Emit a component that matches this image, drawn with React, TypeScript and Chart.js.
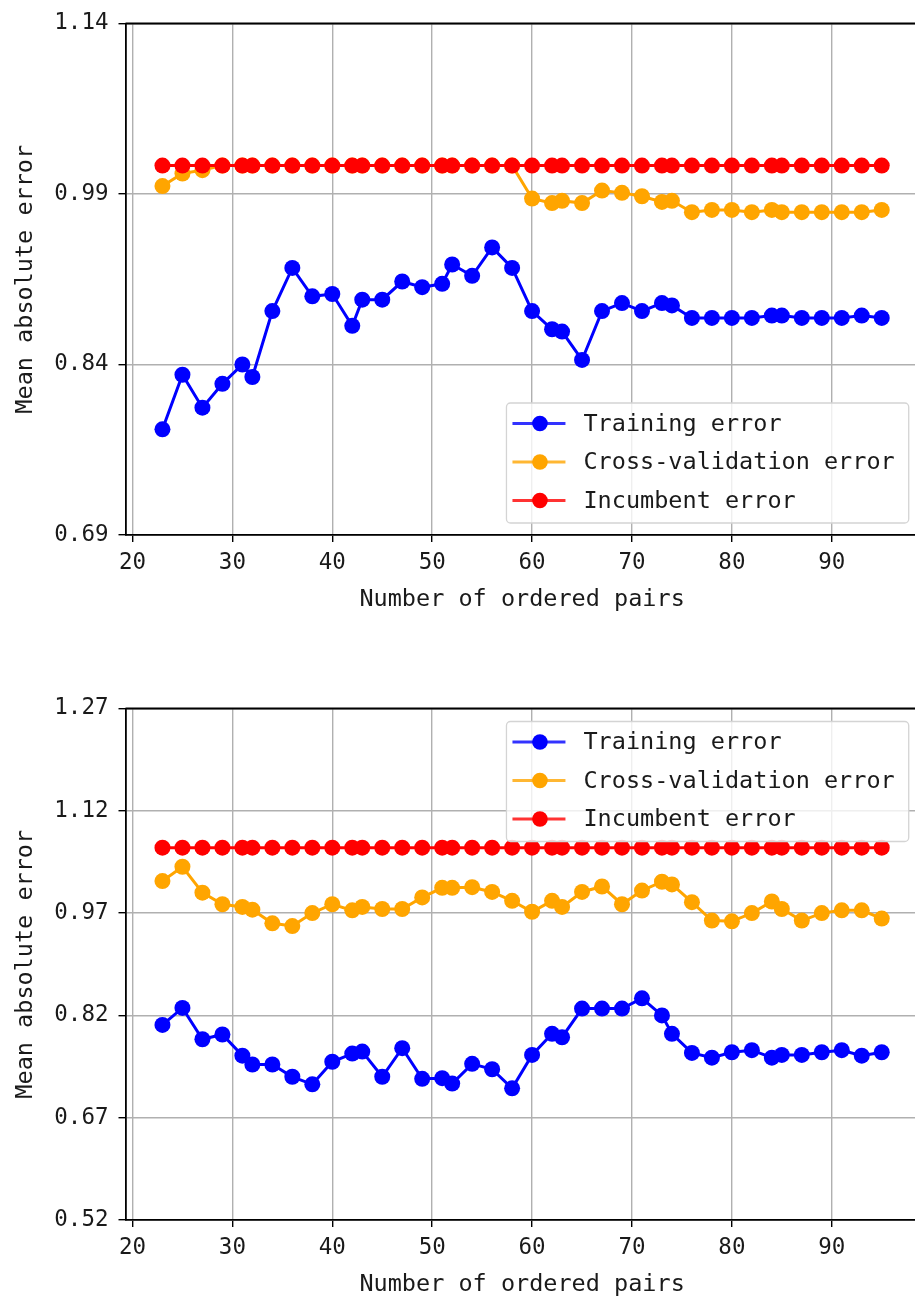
import { useEffect, useRef } from "react";
import { Chart, registerables } from "chart.js";

Chart.register(...registerables);

// Number of ordered pairs used at each evaluation step
const pairCounts = [
  23, 25, 27, 29, 31, 32, 34, 36, 38, 40, 42, 43, 45, 47, 49, 51, 52, 54, 56, 58,
  60, 62, 63, 65, 67, 69, 71, 73, 74, 76, 78, 80, 82, 84, 85, 87, 89, 91, 93, 95,
];

// Upper panel
const trainingErrorA = [
  0.783, 0.831, 0.802, 0.823, 0.84, 0.829, 0.887, 0.925, 0.9, 0.902, 0.874, 0.897, 0.897, 0.913, 0.908, 0.911, 0.928, 0.918, 0.943, 0.925,
  0.887, 0.871, 0.869, 0.844, 0.887, 0.894, 0.887, 0.894, 0.892, 0.881, 0.881, 0.881, 0.881, 0.883, 0.883, 0.881, 0.881, 0.881, 0.883, 0.881,
];
const crossValErrorA = [
  0.997, 1.008, 1.011, 1.015, 1.015, 1.015, 1.015, 1.015, 1.015, 1.015, 1.015, 1.015, 1.015, 1.015, 1.015, 1.015, 1.015, 1.015, 1.015, 1.015,
  0.986, 0.982, 0.984, 0.982, 0.993, 0.991, 0.988, 0.983, 0.984, 0.974, 0.976, 0.976, 0.974, 0.976, 0.974, 0.974, 0.974, 0.974, 0.974, 0.976,
];
const incumbentErrorA = [
  1.015, 1.015, 1.015, 1.015, 1.015, 1.015, 1.015, 1.015, 1.015, 1.015, 1.015, 1.015, 1.015, 1.015, 1.015, 1.015, 1.015, 1.015, 1.015, 1.015,
  1.015, 1.015, 1.015, 1.015, 1.015, 1.015, 1.015, 1.015, 1.015, 1.015, 1.015, 1.015, 1.015, 1.015, 1.015, 1.015, 1.015, 1.015, 1.015, 1.015,
];
const yTicksA = [0.69, 0.84, 0.99, 1.14];

// Lower panel
const trainingErrorB = [
  0.806, 0.831, 0.785, 0.792, 0.761, 0.748, 0.748, 0.73, 0.719, 0.752, 0.764, 0.767, 0.73, 0.772, 0.727, 0.728, 0.72, 0.749, 0.741, 0.713,
  0.762, 0.793, 0.788, 0.83, 0.83, 0.83, 0.845, 0.82, 0.793, 0.765, 0.758, 0.766, 0.769, 0.758, 0.762, 0.762, 0.766, 0.769, 0.761, 0.766,
];
const crossValErrorB = [
  1.017, 1.038, 1.0, 0.983, 0.979, 0.975, 0.955, 0.951, 0.97, 0.983, 0.974, 0.979, 0.976, 0.976, 0.993, 1.007, 1.007, 1.008, 1.001, 0.988,
  0.972, 0.988, 0.979, 1.001, 1.009, 0.983, 1.003, 1.016, 1.012, 0.986, 0.959, 0.958, 0.97, 0.987, 0.976, 0.959, 0.97, 0.974, 0.974, 0.962,
];
const incumbentErrorB = [
  1.066, 1.066, 1.066, 1.066, 1.066, 1.066, 1.066, 1.066, 1.066, 1.066, 1.066, 1.066, 1.066, 1.066, 1.066, 1.066, 1.066, 1.066, 1.066, 1.066,
  1.066, 1.066, 1.066, 1.066, 1.066, 1.066, 1.066, 1.066, 1.066, 1.066, 1.066, 1.066, 1.066, 1.066, 1.066, 1.066, 1.066, 1.066, 1.066, 1.066,
];
const yTicksB = [0.52, 0.67, 0.82, 0.97, 1.12, 1.27];

const xTicks = [20, 30, 40, 50, 60, 70, 80, 90];
const seriesLabels = ["Training error", "Cross-validation error", "Incumbent error"];
const seriesColors = ["#0000ff", "#ffa500", "#ff0000"];

const FONT = '"DejaVu Sans Mono", "Liberation Mono", monospace';
const TEXT_COLOR = "#1a1a1a";
const CANVAS_W = 1000;
const CANVAS_H = 640;

type LegendPlacement = "lower right" | "upper right";

// Top frame line (the right one falls outside the visible page)
const topSpine = {
  id: "topSpine",
  afterDraw(chart: Chart) {
    const { ctx, chartArea } = chart;
    ctx.save();
    ctx.strokeStyle = "#000";
    ctx.lineWidth = 1.8;
    ctx.beginPath();
    ctx.moveTo(chartArea.left, chartArea.top);
    ctx.lineTo(chartArea.right, chartArea.top);
    ctx.stroke();
    ctx.restore();
  },
};

function legendPlugin(placement: LegendPlacement) {
  return {
    id: "innerLegend",
    afterDraw(chart: Chart) {
      const { ctx, chartArea } = chart;
      const xScale = chart.scales.x;
      ctx.save();
      ctx.font = `23.5px ${FONT}`;
      const textW = Math.max(...seriesLabels.map((s) => ctx.measureText(s).width));
      const boxW = 77 + textW + 14;
      const boxH = 120;
      // anchored near the right end of the axis range
      const right = xScale.getPixelForValue(97.7);
      const left = right - boxW;
      const top = placement === "upper right" ? chartArea.top + 13 : chartArea.bottom - 12 - boxH;

      ctx.fillStyle = "rgba(255,255,255,0.8)";
      ctx.strokeStyle = "#d4d4d4";
      ctx.lineWidth = 1.3;
      ctx.beginPath();
      ctx.roundRect(left, top, boxW, boxH, 4);
      ctx.fill();
      ctx.stroke();

      const rowOffsets = [20.5, 59, 97.5];
      seriesLabels.forEach((label, i) => {
        const y = top + rowOffsets[i];
        ctx.strokeStyle = seriesColors[i];
        ctx.globalAlpha = 0.8;
        ctx.lineWidth = 3;
        ctx.beginPath();
        ctx.moveTo(left + 6, y);
        ctx.lineTo(left + 59, y);
        ctx.stroke();
        ctx.globalAlpha = 1;
        ctx.fillStyle = seriesColors[i];
        ctx.beginPath();
        ctx.arc(left + 33.5, y, 7.8, 0, Math.PI * 2);
        ctx.fill();
        ctx.fillStyle = TEXT_COLOR;
        ctx.textBaseline = "middle";
        ctx.textAlign = "left";
        ctx.fillText(label, left + 77, y + 1);
      });
      ctx.restore();
    },
  };
}

function ErrorChart(props: {
  training: number[];
  crossVal: number[];
  incumbent: number[];
  yTicks: number[];
  topPad: number;
  legend: LegendPlacement;
}) {
  const ref = useRef<HTMLCanvasElement | null>(null);

  useEffect(() => {
    if (!ref.current) return;
    const series = [props.training, props.crossVal, props.incumbent];
    const yMin = props.yTicks[0];
    const yMax = props.yTicks[props.yTicks.length - 1];
    const tickFont = { family: FONT, size: 22.5 };
    const titleFont = { family: FONT, size: 23.5 };
    const axisWidth = 125.5;
    const xMin = 19.3;
    const xMax = 98.7;
    const pxPerUnit = 9.99;
    const plotRight = axisWidth + (xMax - xMin) * pxPerUnit;

    const chart = new Chart(ref.current, {
      type: "line",
      data: {
        datasets: series.map((values, i) => ({
          label: seriesLabels[i],
          data: pairCounts.map((x, j) => ({ x, y: values[j] })),
          borderColor: seriesColors[i],
          backgroundColor: seriesColors[i],
          pointBackgroundColor: seriesColors[i],
          pointBorderWidth: 0,
          pointRadius: 8,
          pointHoverRadius: 8,
          borderWidth: 3,
          tension: 0,
          fill: false,
          order: 3 - i,
        })),
      },
      options: {
        animation: false,
        responsive: false,
        events: [],
        layout: { padding: { top: props.topPad, right: CANVAS_W - plotRight, left: 0, bottom: 0 } },
        scales: {
          x: {
            type: "linear",
            min: xMin,
            max: xMax,
            afterBuildTicks: (s: any) => {
              s.ticks = xTicks.map((v) => ({ value: v }));
            },
            afterFit: (s: any) => {
              s.height = 105;
            },
            grid: { color: "#b0b0b0", lineWidth: 1.4, tickColor: "#000", tickLength: 7, tickWidth: 1.4 },
            border: { color: "#000", width: 1.8 },
            ticks: {
              font: tickFont,
              color: TEXT_COLOR,
              padding: 8,
              maxRotation: 0,
              autoSkip: false,
              callback: (v: any) => String(v),
            },
            title: {
              display: true,
              text: "Number of ordered pairs",
              font: titleFont,
              color: TEXT_COLOR,
              padding: { top: 0, bottom: 26 },
            },
          },
          y: {
            type: "linear",
            min: yMin,
            max: yMax,
            afterBuildTicks: (s: any) => {
              s.ticks = props.yTicks.map((v) => ({ value: v }));
            },
            afterFit: (s: any) => {
              s.width = axisWidth;
            },
            grid: { color: "#b0b0b0", lineWidth: 1.4, tickColor: "#000", tickLength: 7, tickWidth: 1.4 },
            border: { color: "#000", width: 1.8 },
            ticks: {
              font: tickFont,
              color: TEXT_COLOR,
              padding: 10,
              autoSkip: false,
              callback: (v: any) => Number(v).toFixed(2),
            },
            title: {
              display: true,
              text: "Mean absolute error",
              font: titleFont,
              color: TEXT_COLOR,
              padding: { top: 12, bottom: 0 },
            },
          },
        },
        plugins: {
          legend: { display: false },
          tooltip: { enabled: false },
        },
      },
      plugins: [topSpine, legendPlugin(props.legend)],
    } as any);

    return () => chart.destroy();
  }, []);

  return (
    <canvas
      ref={ref}
      width={CANVAS_W}
      height={CANVAS_H}
      style={{ display: "block", width: CANVAS_W, height: CANVAS_H }}
    />
  );
}

export default function App() {
  return (
    <div
      style={{
        position: "absolute",
        left: 0,
        top: 0,
        width: 915,
        height: 1298,
        overflow: "hidden",
        background: "#fff",
      }}
    >
      <div style={{ position: "absolute", left: 0, top: 0 }}>
        <ErrorChart
          training={trainingErrorA}
          crossVal={crossValErrorA}
          incumbent={incumbentErrorA}
          yTicks={yTicksA}
          topPad={21}
          legend="lower right"
        />
      </div>
      <div style={{ position: "absolute", left: 0, top: 685 }}>
        <ErrorChart
          training={trainingErrorB}
          crossVal={crossValErrorB}
          incumbent={incumbentErrorB}
          yTicks={yTicksB}
          topPad={20.7}
          legend="upper right"
        />
      </div>
    </div>
  );
}
